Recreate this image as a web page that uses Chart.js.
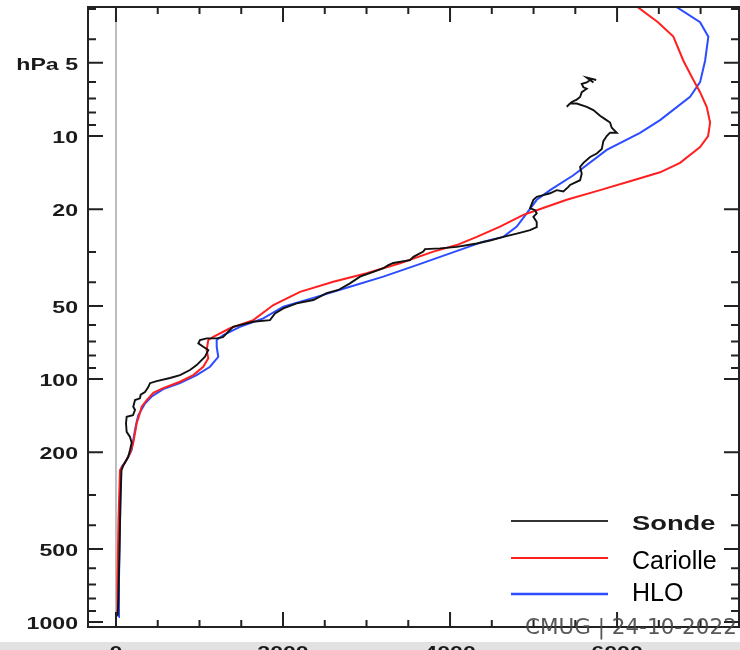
<!DOCTYPE html>
<html>
<head>
<meta charset="utf-8">
<script src="https://cdn.jsdelivr.net/npm/chart.js@4.4.1/dist/chart.umd.min.js"></script>
<style>
  html, body { margin: 0; padding: 0; background: #fff; }
</style>
</head>
<body>
<canvas id="chart" width="740" height="650"></canvas>
<script>
// Ozone profile: pressure (hPa) and ozone value, read bottom to top
const sondePressure = [
  950, 930, 811, 506, 315, 237, 227, 209, 196, 183,
  173, 165, 152, 143, 141, 134, 130, 122, 120, 116,
  113, 108, 104, 102, 99, 96.3, 91.8, 87.6, 80.9, 76.0,
  73.7, 71.3, 69.1, 68.0, 68.0, 67.2, 61.0, 58.1, 57.2, 53.7,
  51.2, 48.8, 47.3, 44.3, 43.0, 40.4, 37.9, 36.2, 35.0, 34.0,
  33.3, 32.4, 31.4, 29.9, 29.2, 29.0, 28.6, 27.7, 26.9, 26.0,
  25.2, 24.4, 23.7, 22.6, 21.5, 20.8, 20.2, 19.8, 18.3, 17.8,
  17.5, 17.2, 16.7, 16.9, 16.2, 15.9, 15.2, 14.3, 13.4, 12.9,
  12.2, 11.8, 11.3, 10.5, 10.0, 9.69, 9.69, 9.24, 8.80, 8.52,
  8.25, 7.82, 7.58, 7.35, 7.35, 7.58, 7.24, 7.08, 6.91, 6.60,
  6.39, 6.30, 6.10, 6.02, 5.88, 6.02, 5.75, 5.88
]
const sondeOzone = [
  0, 20, 28, 42, 54, 66, 87, 147, 168, 188,
  168, 128, 120, 128, 204, 228, 207, 228, 287, 296,
  347, 387, 407, 487, 647, 767, 886, 966, 1066, 1105,
  1045, 986, 1006, 1086, 1206, 1281, 1401, 1641, 1844, 1904,
  2004, 2164, 2363, 2523, 2662, 2802, 2922, 3082, 3201, 3261,
  3321, 3521, 3561, 3680, 3700, 3880, 4080, 4320, 4479, 4638,
  4799, 4958, 5038, 5038, 4998, 5038, 5018, 4958, 4998, 5038,
  5117, 5198, 5278, 5357, 5417, 5437, 5557, 5577, 5557, 5597,
  5677, 5757, 5817, 5836, 5876, 5916, 5996, 5936, 5916, 5856,
  5796, 5716, 5637, 5517, 5437, 5397, 5457, 5517, 5557, 5577,
  5637, 5597, 5577, 5637, 5677, 5717, 5637, 5750
]

const cariollePressure = [
  920, 671, 380, 237, 221, 202, 183, 167, 152, 138,
  130, 122, 114, 109, 102.6, 96.3, 89.0, 82.2, 76.0, 69.1,
  67.0, 61.8, 57.2, 49.6, 43.8, 39.8, 36.7, 33.4, 29.9, 28.1,
  26.0, 23.6, 21.1, 20.2, 18.3, 16.7, 15.2, 14.1, 12.9, 11.1,
  10.0, 8.8, 7.6, 6.6, 5.88, 4.9, 3.9, 3.4, 2.93
]
const cariolleOzone = [
  24, 18, 30, 48, 108, 168, 207, 228, 248, 287,
  308, 368, 447, 566, 766, 926, 1045, 1105, 1086, 1105,
  1165, 1365, 1644, 1884, 2204, 2602, 3002, 3401, 3800, 4080,
  4320, 4599, 4878, 5038, 5397, 5796, 6195, 6515, 6754, 6994,
  7090, 7114, 7074, 6994, 6914, 6794, 6674, 6490, 6236
]

const hloPressure = [
  953, 671, 380, 237, 230, 215, 196, 178, 162, 150,
  141, 126, 118, 110, 104, 96.3, 89, 81, 73.7, 69.1,
  65.9, 61, 56.3, 50.4, 45.9, 41.7, 37.9, 34.0, 30.4, 27.2,
  26.0, 23.6, 20.8, 18.3, 16.7, 14.5, 11.4, 9.7, 8.6, 6.9,
  6.0, 4.9, 3.9, 3.4, 2.95
]
const hloOzone = [
  32, 36, 48, 60, 68, 128, 188, 207, 228, 248,
  267, 347, 428, 566, 766, 966, 1126, 1225, 1206, 1206,
  1285, 1485, 1764, 2004, 2404, 2802, 3201, 3601, 4000, 4399,
  4638, 4799, 4918, 5038, 5198, 5477, 5876, 6275, 6515, 6874,
  6994, 7054, 7093, 6994, 6715
]

const xTickValues = [0, 500, 1000, 1500, 2000, 2500, 3000, 3500, 4000, 4500, 5000, 5500, 6000, 6500, 7000]
const xMajorTicks = [0, 2000, 4000, 6000]
const xTickLabels = ['0', '2000', '4000', '6000']

const yTickValues = [3, 4, 5, 6, 7, 8, 9, 10, 20, 30, 40, 50, 60, 70, 80, 90,
  100, 200, 300, 400, 500, 600, 700, 800, 900, 1000]
const yMajorTicks = [5, 10, 20, 50, 100, 200, 500, 1000]
const yTickLabels = ['hPa 5', '10', '20', '50', '100', '200', '500', '1000']

const legendNames = ['Sonde', 'Cariolle', 'HLO']
const seriesColors = ['#111', '#ff1f1f', '#2b4cff']

function toPoints(pressure, ozone) {
  return pressure.map((p, i) => ({ x: ozone[i], y: p }))
}

// text in the original plot is horizontally stretched
function wideText(ctx, text, x, y, sx, align) {
  ctx.save()
  ctx.translate(x, y)
  ctx.scale(sx, 1)
  ctx.textAlign = align
  ctx.fillText(text, 0, 0)
  ctx.restore()
}

const backgroundPlugin = {
  id: 'background',
  beforeDraw(chart) {
    const { ctx, width, height } = chart
    ctx.save()
    ctx.fillStyle = '#fff'
    ctx.fillRect(0, 0, width, height)
    ctx.fillStyle = '#e2e2e2'
    ctx.fillRect(0, 642, width, height - 642)
    ctx.restore()
  },
}

const framePlugin = {
  id: 'frame',
  afterDraw(chart) {
    const { ctx, chartArea: { left, right, top, bottom }, scales: { x, y } } = chart
    ctx.save()
    ctx.strokeStyle = '#222'
    ctx.lineWidth = 2
    ctx.strokeRect(left, top, right - left, bottom - top)

    // inward ticks on all four sides
    ctx.beginPath()
    for (const v of xTickValues) {
      const px = x.getPixelForValue(v)
      const len = xMajorTicks.includes(v) ? 15 : 7
      ctx.moveTo(px, top); ctx.lineTo(px, top + len)
      ctx.moveTo(px, bottom); ctx.lineTo(px, bottom - len)
    }
    for (const v of yTickValues) {
      const py = y.getPixelForValue(v)
      const len = yMajorTicks.includes(v) ? 15 : 8
      ctx.moveTo(left, py); ctx.lineTo(left + len, py)
      ctx.moveTo(right, py); ctx.lineTo(right - len, py)
    }
    ctx.stroke()

    // tick labels
    ctx.fillStyle = '#1a1a1a'
    ctx.font = 'bold 17px "Liberation Sans", Arial, sans-serif'
    ctx.textBaseline = 'middle'
    yMajorTicks.forEach((v, i) => {
      wideText(ctx, yTickLabels[i], left - 10, y.getPixelForValue(v) + 2, 1.36, 'right')
    })
    ctx.textBaseline = 'top'
    xMajorTicks.forEach((v, i) => {
      wideText(ctx, xTickLabels[i], x.getPixelForValue(v), 645, 1.36, 'center')
    })

    // legend
    const rows = [521, 558, 594]
    rows.forEach((ry, i) => {
      ctx.strokeStyle = i === 0 ? '#333' : seriesColors[i]
      ctx.lineWidth = i === 2 ? 2.5 : 2
      ctx.beginPath()
      ctx.moveTo(511, ry)
      ctx.lineTo(608, ry)
      ctx.stroke()
    })
    ctx.textBaseline = 'alphabetic'
    ctx.fillStyle = '#1a1a1a'
    ctx.font = 'bold 21px "Liberation Sans", Arial, sans-serif'
    wideText(ctx, legendNames[0], 632, 530, 1.3, 'left')
    ctx.fillStyle = '#000'
    ctx.font = '25px "Liberation Sans", Arial, sans-serif'
    ctx.textAlign = 'left'
    ctx.fillText(legendNames[1], 632, 569)
    ctx.fillText(legendNames[2], 632, 601)

    // slide footer
    ctx.fillStyle = 'rgba(70,70,70,0.9)'
    ctx.font = '21.5px "DejaVu Sans", sans-serif'
    ctx.fillText('CMUG | 24-10-2022', 525, 634)
    ctx.restore()
  },
}

new Chart(document.getElementById('chart'), {
  type: 'line',
  data: {
    datasets: [
      {
        label: 'Sonde',
        data: toPoints(sondePressure, sondeOzone),
        borderColor: seriesColors[0],
        borderWidth: 1.9,
        pointRadius: 0,
        tension: 0,
      },
      {
        label: 'Cariolle',
        data: toPoints(cariollePressure, cariolleOzone),
        borderColor: seriesColors[1],
        borderWidth: 2,
        pointRadius: 0,
        tension: 0,
      },
      {
        label: 'HLO',
        data: toPoints(hloPressure, hloOzone),
        borderColor: seriesColors[2],
        borderWidth: 2,
        pointRadius: 0,
        tension: 0,
      },
    ],
  },
  options: {
    responsive: false,
    animation: false,
    devicePixelRatio: 1,
    layout: { padding: { top: 7, right: 1, left: 0, bottom: 0 } },
    plugins: {
      legend: { display: false },
      tooltip: { enabled: false },
    },
    scales: {
      x: {
        type: 'linear',
        min: -335,
        max: 7460,
        afterBuildTicks: s => { s.ticks = xTickValues.map(v => ({ value: v })) },
        afterFit: s => { s.height = 23 },
        ticks: { display: false },
        border: { display: false },
        grid: {
          drawTicks: false,
          lineWidth: 2,
          color: c => (c.tick && c.tick.value === 0 ? '#bdbdbd' : 'rgba(0,0,0,0)'),
        },
      },
      y: {
        type: 'logarithmic',
        reverse: true,
        min: 2.945,
        max: 1048,
        afterBuildTicks: s => { s.ticks = yTickValues.map(v => ({ value: v })) },
        afterFit: s => { s.width = 88 },
        ticks: { display: false },
        border: { display: false },
        grid: { display: false },
      },
    },
  },
  plugins: [backgroundPlugin, framePlugin],
})
</script>
</body>
</html>
